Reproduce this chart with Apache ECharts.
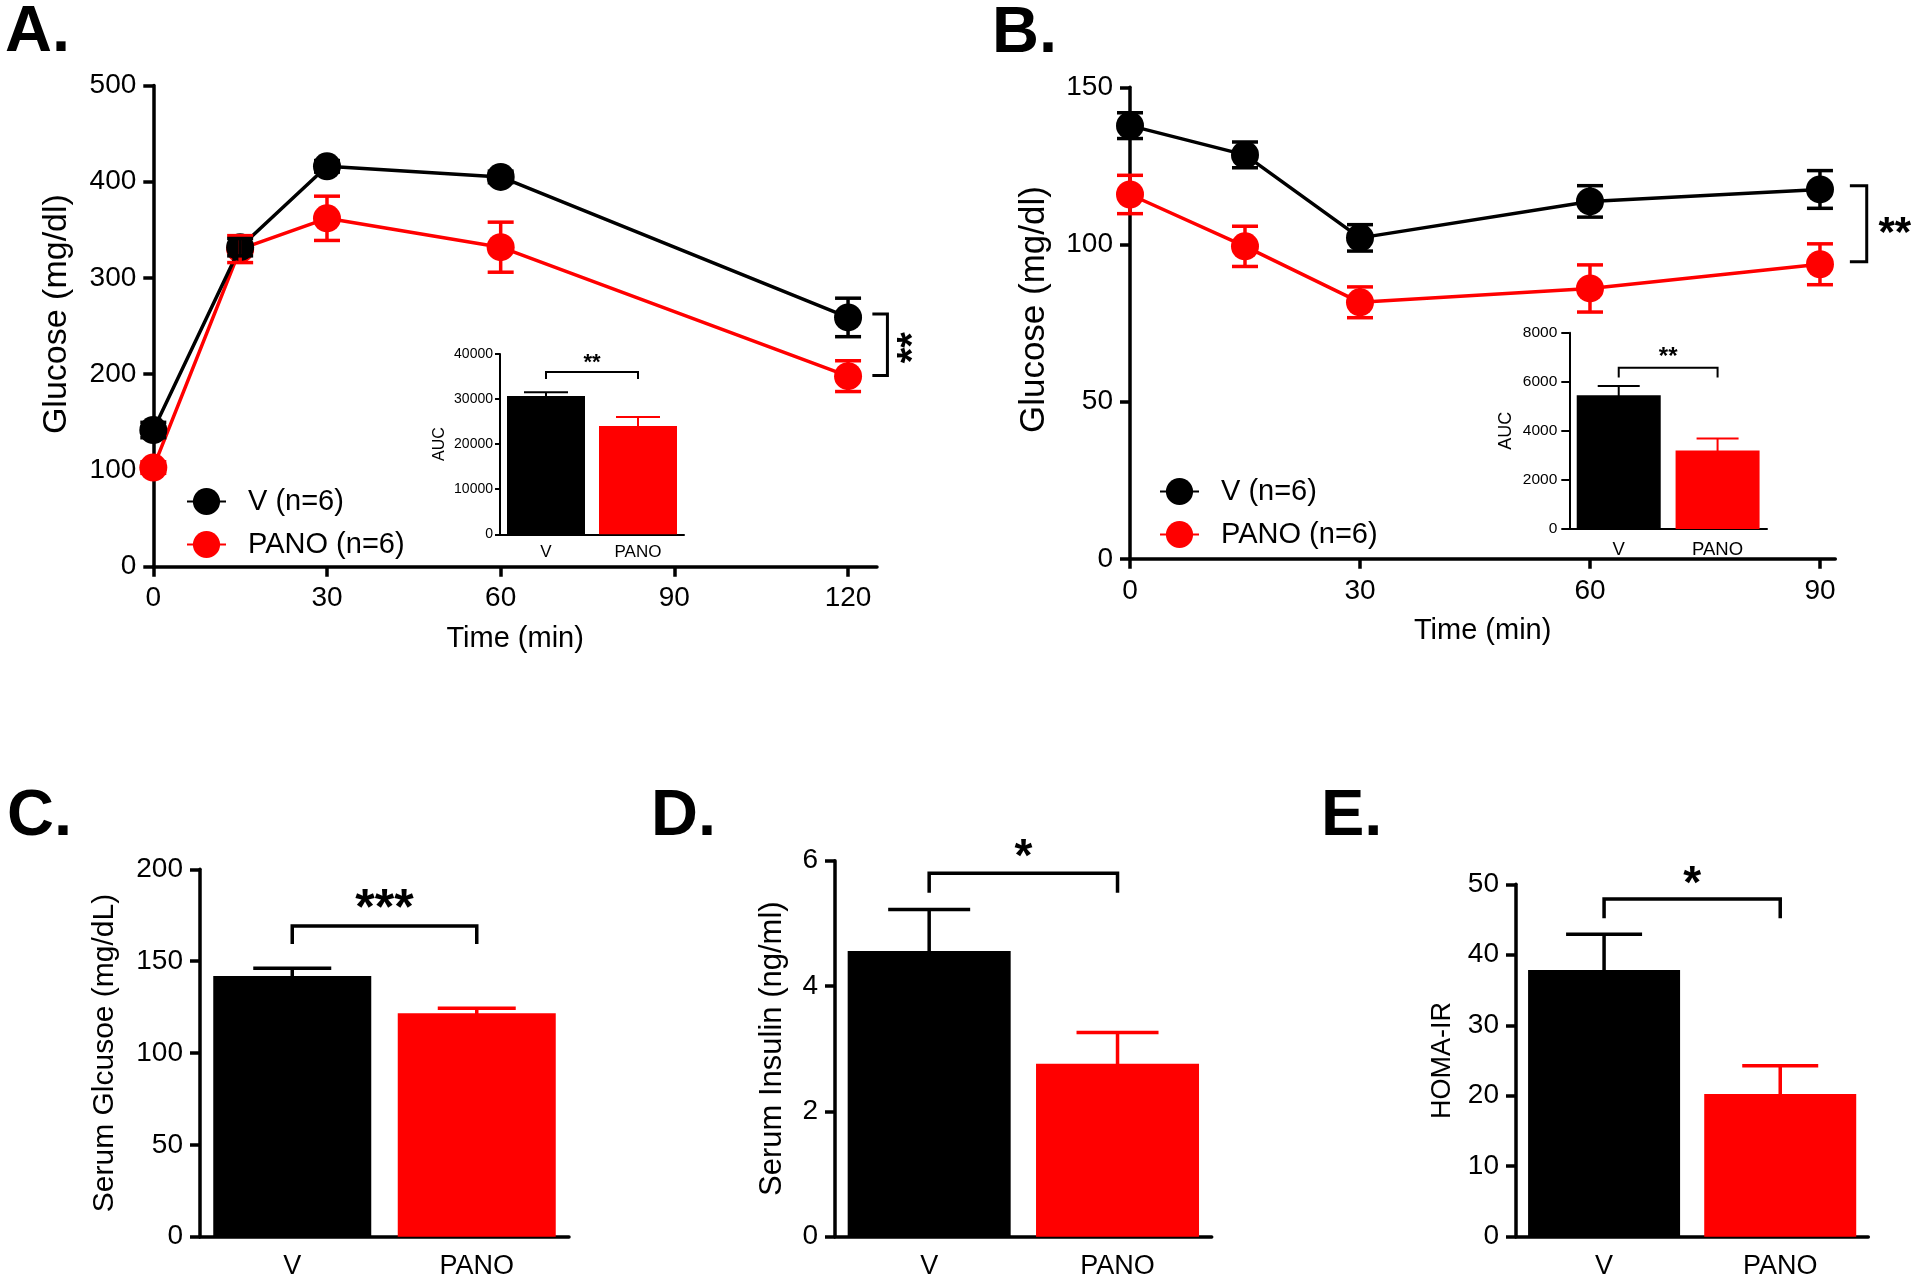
<!DOCTYPE html>
<html><head><meta charset="utf-8">
<script src="https://cdn.jsdelivr.net/npm/echarts@6/dist/echarts.min.js"></script>
<style>html,body{margin:0;padding:0;background:#fff}#c{width:1920px;height:1284px}</style>
</head><body><div id="c"></div>
<script>
// ---------- DATA ----------
// Panel A (glucose tolerance)
const timeA = [0, 15, 30, 60, 120];
const vMeanA = [142, 332, 416, 405, 259];
const vErrA = [8, 9, 6, 6, 20];
const pMeanA = [103, 330, 362, 332, 198];
const pErrA = [6, 14, 23, 26, 16];
// Panel B (insulin tolerance)
const timeB = [0, 15, 30, 60, 90];
const vMeanB = [137.8, 128.5, 102.1, 113.7, 117.5];
const vErrB = [4.1, 4.1, 4.2, 5.0, 6.0];
const pMeanB = [115.9, 99.4, 81.6, 86.0, 93.7];
const pErrB = [6.1, 6.4, 4.9, 7.5, 6.5];
const legendNames = ['V (n=6)', 'PANO (n=6)'];
// Bar panels
const groups = ['V', 'PANO'];
const aucA = [30700, 24000];
const aucAErr = [800, 2050];
const aucB = [5450, 3200];
const aucBErr = [380, 490];
const serumGlucose = [141.9, 121.6];
const serumGlucoseErr = [4.2, 2.8];
const serumInsulin = [4.56, 2.76];
const serumInsulinErr = [0.66, 0.50];
const homaIR = [37.85, 20.25];
const homaIRErr = [5.05, 4.0];
// Significance brackets: [x1, x2, yTop, yLeg] (vertical ones: [xTick, xLine, yTop, yBottom])
const sigA = [124.2, 126.8, 262.6, 198.7];
const sigB = [93.9, 96.1, 118.7, 94.5];
const sigAucA = [0, 1, 36000, 34450];
const sigAucB = [0, 1, 6570, 6170];
const sigC = [0, 1, 169.1, 159.3];
const sigD = [0, 1, 5.80, 5.49];
const sigE = [0, 1, 47.9, 45.2];
const sigLabels = {A: '**', B: '**', aucA: '**', aucB: '**', C: '***', D: '*', E: '*'};

// ---------- STYLE HELPERS ----------
const FONT = '"Liberation Sans", Arial, Helvetica, sans-serif';
const BLACK = '#000000', RED = '#ff0000';
const groupColors = [BLACK, RED];

function errRender(capHalf, lw, twoSided, colorFn) {
  return function (params, api) {
    const x = api.value(0), m = api.value(1), e = api.value(2);
    const color = colorFn(params.dataIndex);
    const pTop = api.coord([x, m + e]);
    const pBot = api.coord([x, twoSided ? m - e : m]);
    const st = {stroke: color, lineWidth: lw, fill: 'none'};
    const ch = [
      {type: 'line', shape: {x1: pTop[0], y1: pTop[1], x2: pBot[0], y2: pBot[1] + (twoSided ? 0 : 4)}, style: st},
      {type: 'line', shape: {x1: pTop[0] - capHalf, y1: pTop[1], x2: pTop[0] + capHalf, y2: pTop[1]}, style: st}
    ];
    if (twoSided) ch.push({type: 'line', shape: {x1: pBot[0] - capHalf, y1: pBot[1], x2: pBot[0] + capHalf, y2: pBot[1]}, style: st});
    return {type: 'group', children: ch};
  };
}

function bracketRender(label, fontSize, lw, orient, dx, dy, rot) {
  return function (params, api) {
    const a = api.value(0), b = api.value(1), t = api.value(2), l = api.value(3);
    let pts, tx, ty;
    if (orient === 'h') {
      const p1 = api.coord([a, l]), p2 = api.coord([a, t]), p3 = api.coord([b, t]), p4 = api.coord([b, l]);
      pts = [p1, p2, p3, p4]; tx = (p2[0] + p3[0]) / 2 + dx; ty = p2[1] + dy;
    } else {
      const p1 = api.coord([a, t]), p2 = api.coord([b, t]), p3 = api.coord([b, l]), p4 = api.coord([a, l]);
      pts = [p1, p2, p3, p4]; tx = p2[0] + dx; ty = (p2[1] + p3[1]) / 2 + dy;
    }
    return {type: 'group', children: [
      {type: 'polyline', shape: {points: pts}, style: {stroke: BLACK, lineWidth: lw, fill: 'none'}},
      {type: 'text', x: tx, y: ty, rotation: rot || 0,
       style: {text: label, fontSize: fontSize, fontWeight: 'bold', fontFamily: FONT, fill: BLACK,
               align: 'center', verticalAlign: 'middle', textAlign: 'center', textVerticalAlign: 'middle'}}
    ]};
  };
}

function lineSeries(name, times, means, color, xi, yi, z) {
  return {type: 'line', name: name, xAxisIndex: xi, yAxisIndex: yi, z: z,
    data: times.map((t, i) => [t, means[i]]), symbol: 'circle', symbolSize: 28, showSymbol: true,
    itemStyle: {color: color}, lineStyle: {color: color, width: 3.5}, emphasis: {disabled: true}};
}
function errSeries(times, means, errs, color, xi, yi, capHalf, lw, twoSided, z) {
  return {type: 'custom', xAxisIndex: xi, yAxisIndex: yi, z: z, clip: false,
    data: times.map((t, i) => [t, means[i], errs[i]]),
    encode: {x: 0, y: [1, 2]},
    renderItem: errRender(capHalf, lw, twoSided, () => color)};
}
function barSeries(vals, xi, yi, width) {
  return {type: 'bar', xAxisIndex: xi, yAxisIndex: yi, barWidth: width, z: 2,
    data: vals.map((v, i) => ({value: v, itemStyle: {color: groupColors[i]}})), emphasis: {disabled: true}};
}
function barErrSeries(vals, errs, xi, yi, capHalf, lw) {
  return {type: 'custom', xAxisIndex: xi, yAxisIndex: yi, z: 3, clip: false,
    data: vals.map((v, i) => [i, v, errs[i]]), encode: {x: 0, y: [1, 2]},
    renderItem: errRender(capHalf, lw, false, (i) => groupColors[i])};
}
function bracketSeries(sig, label, xi, yi, fs, lw, orient, dx, dy, rot) {
  return {type: 'custom', xAxisIndex: xi, yAxisIndex: yi, z: 5, clip: false,
    data: [sig], encode: {x: [0, 1], y: [2, 3]},
    renderItem: bracketRender(label, fs, lw, orient, dx, dy, rot)};
}

function valAxis(gi, min, max, interval, o) {
  o = o || {};
  return {type: 'value', gridIndex: gi, min: min, max: max, interval: interval,
    splitLine: {show: false},
    axisLine: {show: true, onZero: false, lineStyle: {color: BLACK, width: o.lw || 3.5}},
    axisTick: {show: true, length: o.tick || 10, lineStyle: {color: BLACK, width: o.lw || 3.5}},
    axisLabel: {color: BLACK, fontSize: o.fs || 28, fontFamily: FONT, margin: o.margin || 17,
                formatter: (v) => String(v)},
    name: o.name || '', nameLocation: 'middle', nameGap: o.nameGap || 0,
    nameTextStyle: {color: BLACK, fontSize: o.nameFs || 30, fontFamily: FONT, padding: o.namePad || 0}};
}
function catAxis(gi, o) {
  return {type: 'category', gridIndex: gi, data: groups,
    axisLine: {show: true, onZero: false, lineStyle: {color: BLACK, width: o.lw || 3.5}},
    axisTick: {show: false},
    axisLabel: {color: BLACK, fontSize: o.fs, fontFamily: FONT, margin: o.margin}};
}

const legendCommon = {data: legendNames, orient: 'vertical', padding: 0,
  itemWidth: 39, itemHeight: 34, itemGap: 14, selectedMode: false,
  textStyle: {fontSize: 29, color: BLACK, fontFamily: FONT, padding: [0, 0, 0, 17]}};

const option = {
  animation: false,
  backgroundColor: '#ffffff',
  grid: [
    {left: 153.3, top: 85.5, width: 723.7, height: 481.2},
    {left: 500, top: 354, width: 184, height: 180.3},
    {left: 1130, top: 87.3, width: 705.3, height: 471.5},
    {left: 1569.3, top: 332.7, width: 197.7, height: 196.3},
    {left: 200, top: 869.3, width: 369, height: 367.4},
    {left: 835, top: 860.7, width: 376.7, height: 376},
    {left: 1516, top: 884.3, width: 352.3, height: 352.4}
  ],
  xAxis: [
    valAxis(0, 0, 125, 30, {margin: 18, name: 'Time (min)', nameGap: 58, nameFs: 29}),
    catAxis(1, {fs: 17, margin: 10, lw: 2}),
    valAxis(2, 0, 92, 30, {margin: 18, name: 'Time (min)', nameGap: 58, nameFs: 29}),
    catAxis(3, {fs: 18.5, margin: 11, lw: 2}),
    catAxis(4, {fs: 27, margin: 16}),
    catAxis(5, {fs: 27, margin: 16}),
    catAxis(6, {fs: 27, margin: 16})
  ],
  yAxis: [
    valAxis(0, 0, 500, 100, {name: 'Glucose (mg/dl)', nameGap: 80, nameFs: 34, namePad: [0, 0, 0, 24]}),
    valAxis(1, 0, 40000, 10000, {fs: 14, margin: 7, tick: 5, lw: 2, name: 'AUC', nameGap: 52, nameFs: 16}),
    valAxis(2, 0, 150, 50, {name: 'Glucose (mg/dl)', nameGap: 78, nameFs: 35, namePad: [0, 0, 0, 27]}),
    valAxis(3, 0, 8000, 2000, {fs: 15.5, margin: 12, tick: 8, lw: 2, name: 'AUC', nameGap: 54, nameFs: 18}),
    valAxis(4, 0, 200, 50, {name: 'Serum Glcusoe (mg/dL)', nameGap: 80, nameFs: 30}),
    valAxis(5, 0, 6, 2, {name: 'Serum Insulin (ng/ml)', nameGap: 47, nameFs: 31}),
    valAxis(6, 0, 50, 10, {name: 'HOMA-IR', nameGap: 60, nameFs: 27})
  ],
  legend: [
    Object.assign({}, legendCommon, {left: 186, top: 487}),
    Object.assign({}, legendCommon, {left: 1159, top: 477})
  ],
  graphic: ['A.', 'B.', 'C.', 'D.', 'E.'].map((t, i) => ({
    type: 'text', x: [5, 992, 7, 651, 1321][i], y: [33, 34, 817, 817, 817][i],
    style: {text: t, fontSize: 65, fontWeight: 'bold', fontFamily: FONT, fill: BLACK,
            verticalAlign: 'middle', textVerticalAlign: 'middle'}})),
  series: [
    // Panel A
    lineSeries('PANO (n=6)', timeA, pMeanA, RED, 0, 0, 2),
    lineSeries('V (n=6)', timeA, vMeanA, BLACK, 0, 0, 3),
    errSeries(timeA, pMeanA, pErrA, RED, 0, 0, 13, 3.5, true, 4),
    errSeries(timeA, vMeanA, vErrA, BLACK, 0, 0, 13, 3.5, true, 4),
    bracketSeries(sigA, sigLabels.A, 0, 0, 40, 3, 'v', 27, 3, Math.PI / 2),
    // Inset A
    barSeries(aucA, 1, 1, 78),
    barErrSeries(aucA, aucAErr, 1, 1, 22, 2),
    bracketSeries(sigAucA, sigLabels.aucA, 1, 1, 22, 2, 'h', 0, -9),
    // Panel B
    lineSeries('PANO (n=6)', timeB, pMeanB, RED, 2, 2, 2),
    lineSeries('V (n=6)', timeB, vMeanB, BLACK, 2, 2, 3),
    errSeries(timeB, pMeanB, pErrB, RED, 2, 2, 13, 3.5, true, 4),
    errSeries(timeB, vMeanB, vErrB, BLACK, 2, 2, 13, 3.5, true, 4),
    bracketSeries(sigB, sigLabels.B, 2, 2, 42, 3, 'v', 28, 11),
    // Inset B
    barSeries(aucB, 3, 3, 84),
    barErrSeries(aucB, aucBErr, 3, 3, 21, 2),
    bracketSeries(sigAucB, sigLabels.aucB, 3, 3, 24, 2, 'h', 0, -10),
    // Panel C
    barSeries(serumGlucose, 4, 4, 158),
    barErrSeries(serumGlucose, serumGlucoseErr, 4, 4, 39, 3.5),
    bracketSeries(sigC, sigLabels.C, 4, 4, 50, 3.5, 'h', 0, -16),
    // Panel D
    barSeries(serumInsulin, 5, 5, 163),
    barErrSeries(serumInsulin, serumInsulinErr, 5, 5, 41, 3.5),
    bracketSeries(sigD, sigLabels.D, 5, 5, 46, 3.5, 'h', 0, -15),
    // Panel E
    barSeries(homaIR, 6, 6, 152),
    barErrSeries(homaIR, homaIRErr, 6, 6, 38, 3.5),
    bracketSeries(sigE, sigLabels.E, 6, 6, 46, 3.5, 'h', 0, -14)
  ]
};
const chart = echarts.init(document.getElementById('c'), null, {renderer: 'canvas'});
chart.setOption(option);
</script>
</body></html>
